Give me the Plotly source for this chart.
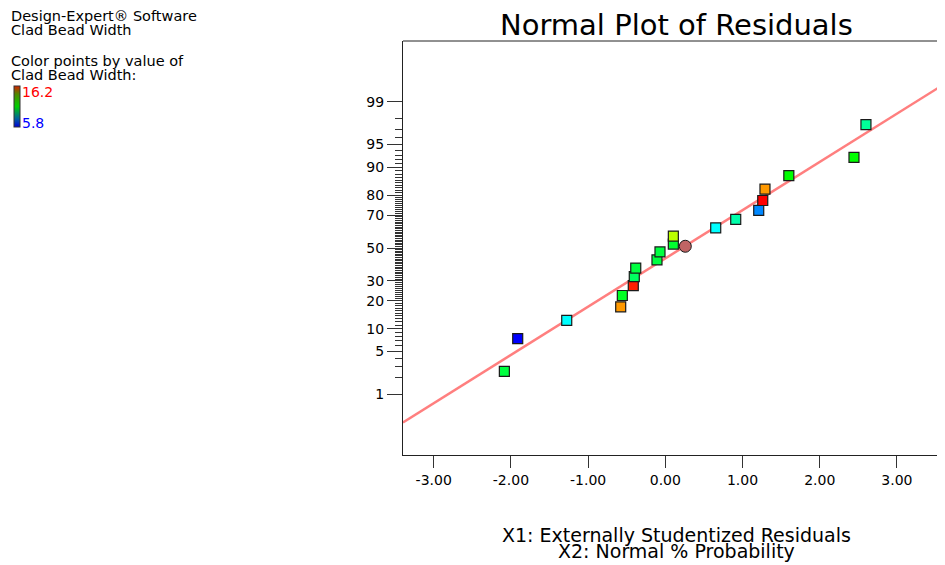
import plotly.graph_objects as go
from statistics import NormalDist

# ---------------- data ----------------
# externally studentized residuals (x) and normal % probability (y) of the runs
residuals = [-2.085, -1.912, -1.277, -0.578, -0.557, -0.415, -0.402, -0.383,
             -0.108, -0.069, 0.104, 0.104, 0.653, 0.912, 1.210, 1.262,
             1.291, 1.600, 2.444, 2.599]
probability = [2.5, 7.5, 12.5, 17.5, 22.5, 27.5, 32.5, 37.5, 42.5, 47.5,
               52.5, 57.5, 62.5, 67.5, 72.5, 77.5, 82.5, 87.5, 92.5, 97.5]
point_colors = ["#00FF40", "#0000FF", "#00FFFF", "#FF9900", "#00FF22", "#FF2000",
                "#00FF60", "#00FF40", "#00FF40", "#00FF40", "#00FF30", "#BBFF00",
                "#00FFFF", "#00FFAA", "#0088FF", "#FF0000", "#FF9900", "#00FF00",
                "#00FF00", "#00FF99"]

# highlighted (ellipse) point
center_residual = [0.259]
center_probability = [51.1]

# fitted normal line: residual mean and standard deviation
line_mean = 0.216
line_sd = 1.304
line_x = [-3.398, 3.70]

# axis ticks
x_ticks = [-3, -2, -1, 0, 1, 2, 3]
x_tick_labels = ["-3.00", "-2.00", "-1.00", "0.00", "1.00", "2.00", "3.00"]
y_tick_pct = [1, 5, 10, 20, 30, 50, 70, 80, 90, 95, 99]
y_minor_pct = list(range(1, 100))

color_min, color_max = 5.8, 16.2

# ---------------- helpers ----------------
nd = NormalDist()


def z(p):
    return nd.inv_cdf(p / 100.0)


OFF = 8  # page body margin in the browser
W, H = 945 - OFF, 565 - OFF
L, R, T = 403 - OFF, 0, 41 - OFF
B = H - (455 - OFF)
PW, PH = W - L - R, H - T - B


def px(x):
    return (x - OFF - L) / PW


def py(y):
    return 1 - (y - OFF - T) / PH


FONT = "DejaVu Sans"

fig = go.Figure()

# fitted line
fig.add_trace(go.Scatter(
    x=line_x,
    y=[(v - line_mean) / line_sd for v in line_x],
    mode="lines",
    line=dict(color="#FF7F7F", width=2.5),
    hoverinfo="skip", showlegend=False,
))

# residual points
fig.add_trace(go.Scatter(
    x=residuals,
    y=[z(p) for p in probability],
    mode="markers",
    marker=dict(symbol="square", size=10, color=point_colors,
                line=dict(color="#1a1a1a", width=1.2)),
    showlegend=False,
))

# highlighted ellipse point
fig.add_trace(go.Scatter(
    x=center_residual,
    y=[z(p) for p in center_probability],
    mode="markers",
    marker=dict(symbol="circle", size=12, color="#C06464",
                line=dict(color="#1a1a1a", width=1)),
    showlegend=False,
))

# colour key (colorbar only)
fig.add_trace(go.Scatter(
    x=[None], y=[None], mode="markers",
    marker=dict(color=[color_min, color_max], cmin=color_min, cmax=color_max,
                colorscale=[[0, "#0000D8"], [0.2, "#0060A0"], [0.5, "#00D000"],
                            [0.8, "#508800"], [1, "#D82000"]],
                showscale=True,
                colorbar=dict(x=px(14), xanchor="left", y=py(86), yanchor="top",
                              lenmode="pixels", len=41, thickness=6,
                              xpad=0, ypad=0, outlinewidth=1, outlinecolor="#333",
                              showticklabels=False, ticks="")),
    showlegend=False, hoverinfo="skip",
))

fig.update_layout(
    width=W, height=H,
    margin=dict(l=L, r=R, t=T, b=B),
    paper_bgcolor="white", plot_bgcolor="white",
    font=dict(family=FONT, size=14, color="black"),
    xaxis=dict(range=[-3.398, 3.623], showgrid=False, zeroline=False,
               showline=True, linecolor="#222", linewidth=1,
               tickmode="array", tickvals=x_ticks, ticktext=x_tick_labels,
               ticks="outside", ticklen=12, tickcolor="#333", tickwidth=1,
               tickfont=dict(family=FONT, size=14)),
    yaxis=dict(range=[-3.2905, 3.2905], showgrid=False, zeroline=False,
               showline=True, linecolor="#222", linewidth=1,
               tickmode="array", tickvals=[z(p) for p in y_tick_pct],
               ticktext=[str(p) for p in y_tick_pct],
               ticks="outside", ticklen=15, tickcolor="#333", tickwidth=1,
               tickfont=dict(family=FONT, size=14),
               minor=dict(tickmode="array", tickvals=[z(p) for p in y_minor_pct],
                          ticks="outside", ticklen=7, tickcolor="#333",
                          tickwidth=1, showgrid=False)),
    showlegend=False,
)

# top frame line
fig.add_shape(type="line", xref="paper", yref="paper", x0=0, x1=1, y0=1, y1=1,
              line=dict(color="#222", width=1))

ann = [
    ("Normal Plot of Residuals", 676, 25, 29, "center", "black"),
    ("X1: Externally Studentized Residuals", 676, 535, 19, "center", "black"),
    ("X2: Normal % Probability", 676, 551, 19, "center", "black"),
    ("Design-Expert® Software", 9, 16, 14.5, "left", "black"),
    ("Clad Bead Width", 9, 29.5, 14.5, "left", "black"),
    ("Color points by value of", 9, 61, 14.5, "left", "black"),
    ("Clad Bead Width:", 9, 75, 14.5, "left", "black"),
    ("16.2", 20, 92, 14, "left", "#FF0000"),
    ("5.8", 20, 123, 14, "left", "#0000FF"),
]
for text, x, y, size, anchor, color in ann:
    fig.add_annotation(text=text, xref="paper", yref="paper", x=px(x), y=py(y),
                       xanchor=anchor, yanchor="middle", showarrow=False,
                       font=dict(family=FONT, size=size, color=color))

fig.write_html("out.html")
